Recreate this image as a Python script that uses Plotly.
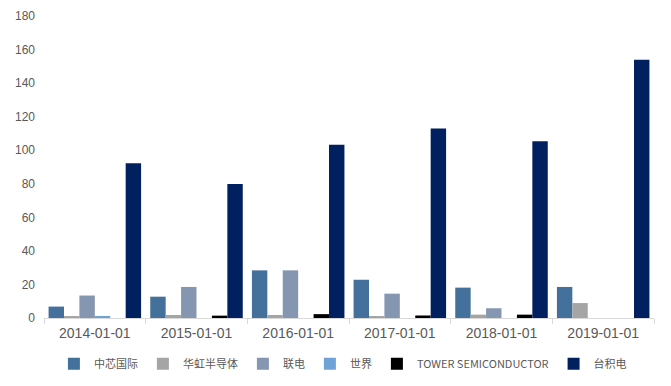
import plotly.graph_objects as go

categories = ["2014-01-01", "2015-01-01", "2016-01-01", "2017-01-01", "2018-01-01", "2019-01-01"]
series_names = ["中芯国际", "华虹半导体", "联电", "世界", "TOWER SEMICONDUCTOR", "台积电"]
smic = [6.8, 12.7, 28.4, 22.8, 18.1, 18.5]
huahong = [0.6, 1.8, 1.8, 1.0, 2.0, 8.9]
umc = [13.4, 18.5, 28.4, 14.5, 5.8, 0]
vis = [0.6, 0, 0, 0, 0, 0]
tower = [0, 1.4, 2.3, 1.5, 2.0, 0]
tsmc = [92.3, 79.8, 103.2, 113.0, 105.4, 153.9]

values = [smic, huahong, umc, vis, tower, tsmc]
colors = ["#44719C", "#A5A5A5", "#8496B0", "#6FA3D8", "#000000", "#002060"]

fig = go.Figure()
for name, vals, c in zip(series_names, values, colors):
    fig.add_trace(go.Bar(x=categories, y=vals, name=name, marker_color=c, marker_line_width=0))

fig.update_layout(
    width=671, height=386,
    margin=dict(l=44, r=17, t=16, b=68, autoexpand=False),
    paper_bgcolor="white", plot_bgcolor="white",
    barmode="group", bargap=0.09, bargroupgap=0,
    font=dict(family="Liberation Sans, Arial, sans-serif", color="#595959", size=13),
    legend=dict(orientation="h", x=0.49, xanchor="center", y=0.095, yref="container", yanchor="top",
                font=dict(family="Noto Sans CJK SC", size=11, color="#595959"),
                itemwidth=30, tracegroupgap=0),
    showlegend=True,
)
fig.update_xaxes(type="category", showline=True, linecolor="#D9D9D9", linewidth=1,
                 ticks="outside", tickson="boundaries", ticklen=5, tickcolor="#D9D9D9",
                 ticklabelstandoff=2,
                 showgrid=False, tickfont=dict(size=14, color="#595959"))
fig.update_yaxes(range=[0, 180], dtick=20, showgrid=False, showline=False, zeroline=False,
                 ticks="", ticklabelstandoff=8, tickfont=dict(size=12, color="#595959"))

fig.write_html("out.html")
